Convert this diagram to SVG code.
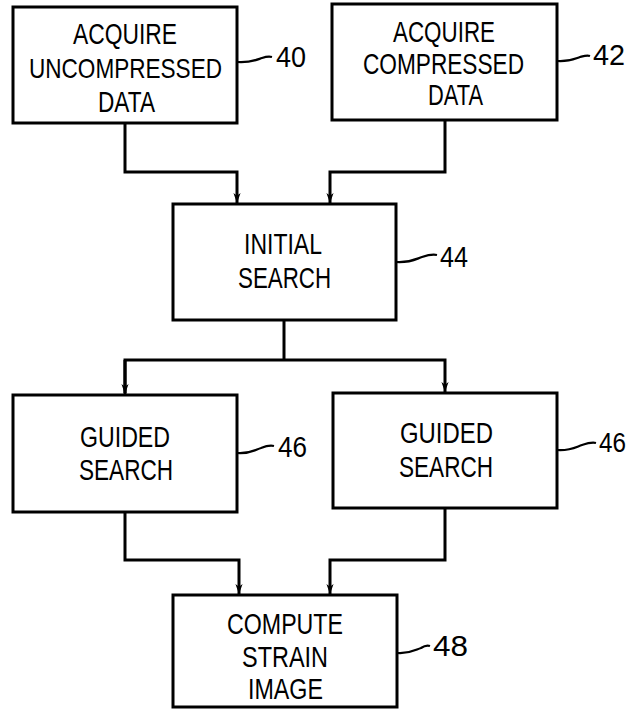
<svg xmlns="http://www.w3.org/2000/svg" width="629" height="710" viewBox="0 0 629 710">
<style>
.box{fill:#fff;stroke:#000;stroke-width:3}
.t{font-family:"Liberation Sans",Arial,sans-serif;font-size:30px;fill:#000;text-anchor:start}
.n{font-family:"Liberation Sans",Arial,sans-serif;font-size:29px;fill:#000}
.c{fill:none;stroke:#000;stroke-width:3}
.l{fill:none;stroke:#000;stroke-width:2.2}
</style>
<defs>
<marker id="a" markerUnits="userSpaceOnUse" markerWidth="10" markerHeight="14" refX="14" refY="5" orient="auto" viewBox="0 0 14 10">
<path d="M0,0 L14,5 L0,10 L4,5 Z" fill="#000"/>
</marker>
</defs>
<rect width="629" height="710" fill="#fff"/>
<g id="connectors">
<path class="c" d="M125,123 V172 H237 V203" marker-end="url(#a)"/>
<path class="c" d="M445,120 V172 H330 V203" marker-end="url(#a)"/>
<path class="c" d="M284,320 V360"/>
<path class="c" d="M125,393 V360 H445 V392" marker-end="url(#a)"/>
<path class="c" d="M125,360 V394" marker-end="url(#a)"/>
<path class="c" d="M125,512 V560 H239 V594" marker-end="url(#a)"/>
<path class="c" d="M445,508 V560 H330 V594" marker-end="url(#a)"/>
</g>
<g id="n40">
<rect class="box" x="13" y="7" width="224" height="116"/>
<text class="t" x="73" y="44" textLength="104" lengthAdjust="spacingAndGlyphs">ACQUIRE</text>
<text class="t" x="29" y="78" textLength="193" lengthAdjust="spacingAndGlyphs" style="font-size:28px">UNCOMPRESSED</text>
<text class="t" x="98" y="112" textLength="57" lengthAdjust="spacingAndGlyphs">DATA</text>
<path class="l" d="M237,62 C250,63 256,60 262,58 C265,57 268,56 272,57"/>
<text class="n" x="276" y="67" textLength="30" lengthAdjust="spacingAndGlyphs">40</text>
</g>
<g id="n42">
<rect class="box" x="332" y="4" width="225" height="116"/>
<text class="t" x="393" y="42" textLength="102" lengthAdjust="spacingAndGlyphs">ACQUIRE</text>
<text class="t" x="363" y="74" textLength="161" lengthAdjust="spacingAndGlyphs">COMPRESSED</text>
<text class="t" x="428" y="105" textLength="55" lengthAdjust="spacingAndGlyphs">DATA</text>
<path class="l" d="M557,61 C568,62 574,59 580,57 C584,56 587,55 590,56"/>
<text class="n" x="593" y="65" textLength="32" lengthAdjust="spacingAndGlyphs">42</text>
</g>
<g id="n44">
<rect class="box" x="173" y="204" width="223" height="116"/>
<text class="t" x="244" y="254" textLength="78" lengthAdjust="spacingAndGlyphs">INITIAL</text>
<text class="t" x="238" y="288" textLength="93" lengthAdjust="spacingAndGlyphs">SEARCH</text>
<path class="l" d="M396,262 C410,263 416,259 422,257 C428,255 432,254 437,255"/>
<text class="n" x="440" y="267" textLength="28" lengthAdjust="spacingAndGlyphs">44</text>
</g>
<g id="n46a">
<rect class="box" x="13" y="395" width="224" height="117"/>
<text class="t" x="80" y="447" textLength="90" lengthAdjust="spacingAndGlyphs">GUIDED</text>
<text class="t" x="79" y="480" textLength="94" lengthAdjust="spacingAndGlyphs">SEARCH</text>
<path class="l" d="M237,453 C250,454 255,450 261,448 C266,446 270,445 274,446"/>
<text class="n" x="278" y="457" textLength="29" lengthAdjust="spacingAndGlyphs">46</text>
</g>
<g id="n46b">
<rect class="box" x="333" y="393" width="224" height="115"/>
<text class="t" x="400" y="443" textLength="93" lengthAdjust="spacingAndGlyphs">GUIDED</text>
<text class="t" x="399" y="477" textLength="94" lengthAdjust="spacingAndGlyphs">SEARCH</text>
<path class="l" d="M557,450 C570,451 576,447 582,445 C588,443 592,442 596,443"/>
<text class="n" x="599" y="452" textLength="27" lengthAdjust="spacingAndGlyphs" style="font-size:28px">46</text>
</g>
<g id="n48">
<rect class="box" x="173" y="595" width="224" height="112"/>
<text class="t" x="227" y="634" textLength="116" lengthAdjust="spacingAndGlyphs">COMPUTE</text>
<text class="t" x="242" y="667" textLength="86" lengthAdjust="spacingAndGlyphs">STRAIN</text>
<text class="t" x="248" y="699" textLength="75" lengthAdjust="spacingAndGlyphs">IMAGE</text>
<path class="l" d="M397,653 C410,654 415,650 421,648 C424,646 427,645 430,646"/>
<text class="n" x="433" y="656" textLength="35" lengthAdjust="spacingAndGlyphs">48</text>
</g>
</svg>
